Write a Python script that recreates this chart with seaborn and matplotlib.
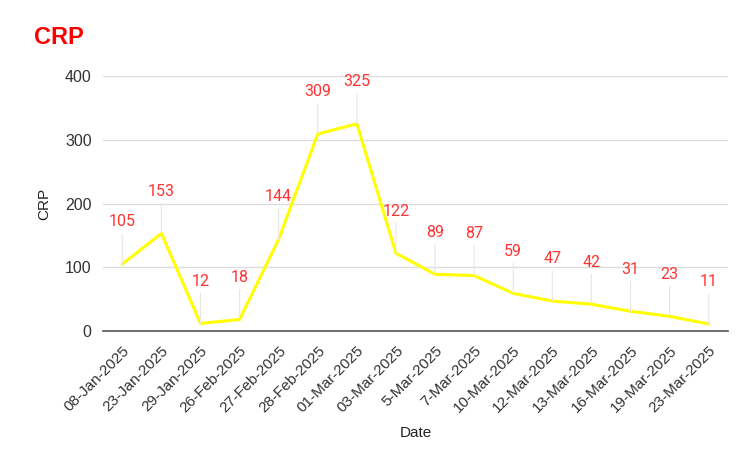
import numpy as np
import pandas as pd
import matplotlib
matplotlib.use("Agg")
import matplotlib.pyplot as plt
import seaborn as sns

# Data
dates = ["08-Jan-2025", "23-Jan-2025", "29-Jan-2025", "26-Feb-2025", "27-Feb-2025",
         "28-Feb-2025", "01-Mar-2025", "03-Mar-2025", "5-Mar-2025", "7-Mar-2025",
         "10-Mar-2025", "12-Mar-2025", "13-Mar-2025", "16-Mar-2025", "19-Mar-2025",
         "23-Mar-2025"]
crp = [105, 153, 12, 18, 144, 309, 325, 122, 89, 87, 59, 47, 42, 31, 23, 11]

df = pd.DataFrame({"Date": dates, "CRP": crp})
df["pos"] = np.arange(len(df))

sns.set_style("white")
plt.rcParams["font.family"] = ["Liberation Sans", "DejaVu Sans"]

fig = plt.figure(figsize=(7.5, 4.62), dpi=100)
ax = fig.add_axes([0.137, 0.2835, 0.834, 0.552])

sns.lineplot(data=df, x="pos", y="CRP", color="#ffff00", linewidth=2.2, ax=ax)

# value labels with thin leader lines
for p, v in zip(df["pos"], df["CRP"]):
    ax.annotate(str(v), xy=(p, v), xytext=(0, 25), textcoords="offset points",
                ha="center", va="bottom", color="#ff3333", fontsize=11.5,
                family=["Roboto", "DejaVu Sans"],
                arrowprops=dict(arrowstyle="-", color="#e6e6e6", lw=0.8,
                                shrinkA=1, shrinkB=0))

ax.set_xlim(-0.5, len(df) - 0.5)
ax.set_ylim(0, 400)
ax.set_yticks([0, 100, 200, 300, 400])
ax.set_xticks(df["pos"])
ax.set_xticklabels(df["Date"], rotation=45, ha="right", rotation_mode="anchor",
                   fontsize=11, color="#333333")
ax.tick_params(axis="y", labelsize=11.5, labelcolor="#333333", length=0, pad=8)
ax.tick_params(axis="x", length=0, pad=9)
ax.grid(axis="y", color="#dddddd", linewidth=1)
ax.set_axisbelow(True)
for s in ["top", "right", "left"]:
    ax.spines[s].set_visible(False)
ax.spines["bottom"].set_color("#555555")
ax.spines["bottom"].set_linewidth(1.2)
ax.set_xlabel("Date", fontsize=11, color="#222222", labelpad=8)
ax.set_ylabel("CRP", fontsize=11, color="#222222", labelpad=10)

fig.text(0.045, 0.905, "CRP", color="#ff0000", fontsize=17, fontweight="bold")

fig.savefig("out.png", dpi=100)
